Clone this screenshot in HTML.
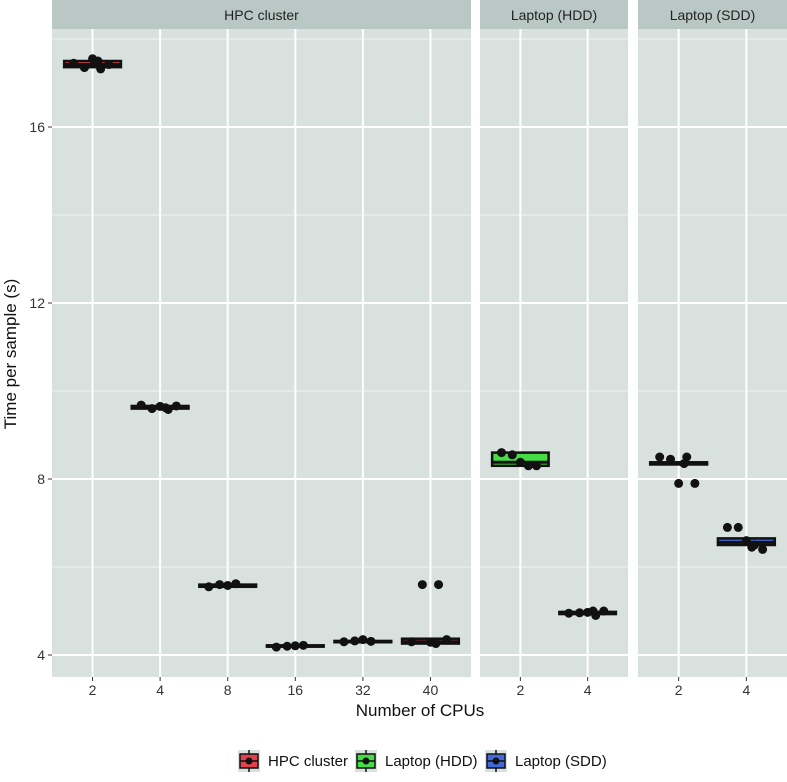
<!DOCTYPE html>
<html><head><meta charset="utf-8"><style>
body{margin:0;background:#fff;font-family:"Liberation Sans",sans-serif}
svg text{font-family:"Liberation Sans",sans-serif}
</style></head><body>
<svg id="c" width="787" height="777"></svg>
<script>
const panels=["HPC cluster","Laptop (HDD)","Laptop (SDD)"];
const panelCats=[["2","4","8","16","32","40"],["2","4"],["2","4"]];
const panelFill=["#e0434c","#46dc44","#4268dc"];
// box stats per panel per category: [q1, median, q3]
const boxStats=[
 [[17.36,17.42,17.5],[9.6,9.63,9.66],[5.55,5.58,5.6],[4.19,4.2,4.22],[4.29,4.3,4.32],[4.26,4.3,4.37]],
 [[8.3,8.38,8.6],[4.93,4.96,4.98]],
 [[8.33,8.36,8.38],[6.5,6.56,6.65]]
];
const pointValues=[
 [[17.45,17.35,17.55,17.32,17.42,17.5],[9.68,9.6,9.65,9.58,9.66,9.62],[5.55,5.6,5.58,5.62],[4.18,4.2,4.21,4.22],[4.3,4.32,4.35,4.31],[4.3,5.6,4.29,5.6,4.35,4.26]],
 [[8.6,8.55,8.38,8.3,8.3],[4.95,4.96,4.97,4.9,5.0,5.0]],
 [[8.5,8.45,7.9,8.5,7.9,8.35],[6.9,6.9,6.6,6.5,6.4,6.45]]
];
const yTicks=[4,8,12,16];
const yMinor=[6,10,14,18];
const jitter=[-0.35,-0.15,0.0,0.15,0.3,0.1];
const NS="http://www.w3.org/2000/svg";
const svg=document.getElementById('c');
function el(t,a,p){const e=document.createElementNS(NS,t);for(const k in a)e.setAttribute(k,a[k]);(p||svg).appendChild(e);return e;}
const pX=[[52,471],[480,628],[638,787]];
const topY=29,botY=677;
function y(v){return 655-(v-4)*44;}
panels.forEach((name,pi)=>{
 const [x0,x1]=pX[pi];const n=panelCats[pi].length;
 const step=(x1-x0)/(n+0.2);
 const x=i=>x0+step*(0.6+i);
 const g=el('g',{});
 
 
 el('rect',{x:x0,y:topY,width:x1-x0,height:botY-topY,fill:'#d9e1df'},g);
 const s=el('rect',{x:x0,y:0,width:x1-x0,height:topY,fill:'#b9c8c4'},g);
 
 
 const st=el('text',{x:(x0+x1)/2,y:20,'text-anchor':'middle','font-size':14,fill:'#222'},g);st.textContent=name;
 
 
 yMinor.forEach(v=>el('line',{x1:x0,x2:x1,y1:y(v),y2:y(v),stroke:'#eef2f1','stroke-width':1},g));
 yTicks.forEach(v=>el('line',{x1:x0,x2:x1,y1:y(v),y2:y(v),stroke:'#fff','stroke-width':2},g));
 panelCats[pi].forEach((c,i)=>{
  el('line',{x1:x(i),x2:x(i),y1:topY,y2:botY,stroke:'#fff','stroke-width':2},g);
  el('line',{x1:x(i),x2:x(i),y1:botY,y2:botY+4,stroke:'#333','stroke-width':1},g);
  const t=el('text',{x:x(i),y:botY+18,'text-anchor':'middle','font-size':14,fill:'#333'},g);t.textContent=c;
  
  
 });
 panelCats[pi].forEach((c,i)=>{
  const [q1,m,q3]=boxStats[pi][i];const bw=step*0.84;
  const b=el('rect',{x:x(i)-bw/2,y:y(q3),width:bw,height:Math.max(y(q1)-y(q3),1),fill:panelFill[pi],stroke:'#111','stroke-width':2.5},g);
  
  
  el('line',{x1:x(i)-bw/2,x2:x(i)+bw/2,y1:y(m),y2:y(m),stroke:'#111','stroke-width':3},g);
  pointValues[pi][i].forEach((v,k)=>{
   const p=el('circle',{cx:x(i)+jitter[k%jitter.length]*step*0.8,cy:y(v),r:4.5,fill:'#111'},g);
   
   
  });
 });
});
yTicks.forEach(v=>{
 el('line',{x1:48,x2:52,y1:y(v),y2:y(v),stroke:'#333'});
 const t=el('text',{x:45,y:y(v)+5,'text-anchor':'end','font-size':14,fill:'#333'});t.textContent=v;
 
 
});
const yt=el('text',{transform:'translate(16,354) rotate(-90)','text-anchor':'middle','font-size':17,fill:'#111'});yt.textContent='Time per sample (s)';


const xt=el('text',{x:420,y:716,'text-anchor':'middle','font-size':17,fill:'#111'});xt.textContent='Number of CPUs';


const lx=[238,355,485];
panels.forEach((name,i)=>{
 const g=el('g',{});
 
 
 el('rect',{x:lx[i],y:750,width:22,height:22,fill:'#d9e1df'},g);
 el('line',{x1:lx[i]+11,x2:lx[i]+11,y1:750,y2:772,stroke:'#111','stroke-width':1.5},g);
 el('rect',{x:lx[i]+2,y:754,width:18,height:14,fill:panelFill[i],stroke:'#111','stroke-width':1.5},g);
 el('line',{x1:lx[i]+2,x2:lx[i]+20,y1:761,y2:761,stroke:'#111','stroke-width':1.5},g);
 el('circle',{cx:lx[i]+11,cy:761,r:3.5,fill:'#111'},g);
 const t=el('text',{x:lx[i]+30,y:766,'font-size':15,fill:'#111'},g);t.textContent=name;
});
</script>
</body></html>
